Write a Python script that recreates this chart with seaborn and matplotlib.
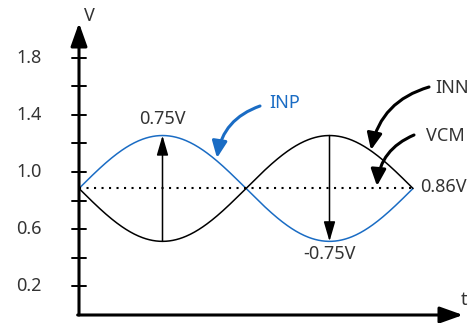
import numpy as np
import pandas as pd
import matplotlib
matplotlib.use("Agg")
import matplotlib.pyplot as plt
import seaborn as sns

# ---- data ----
vcm = 0.885            # common-mode level (plotted)
amp = 0.37             # single-ended amplitude
yticks = [0.2, 0.4, 0.6, 0.8, 1.0, 1.2, 1.4, 1.6, 1.8]
ytick_labels = ["0.2", "", "0.6", "", "1.0", "", "1.4", "", "1.8"]
label_peak = "0.75V"
label_trough = "-0.75V"
label_vcm = "0.86V"
series_names = ["INP", "INN"]

t = np.linspace(0, 1, 400)
df = pd.DataFrame({
    "t": np.concatenate([t, t]),
    "v": np.concatenate([vcm + amp * np.sin(2 * np.pi * t),
                         vcm - amp * np.sin(2 * np.pi * t)]),
    "sig": ["INP"] * len(t) + ["INN"] * len(t),
})

sns.set_style("white")
plt.rcParams["font.family"] = ["Noto Sans", "DejaVu Sans"]
FS = 13

W, H = 474, 323
fig = plt.figure(figsize=(W / 100, H / 100), dpi=100)
ax = fig.add_axes([0, 0, 1, 1])
x0px, xs = 79, 334.0   # pixel of t=0 and px per period
y0px, ys = 315, 143.0  # pixel of v=0 and px per volt
ax.set_xlim(-x0px / xs, (W - x0px) / xs)
ax.set_ylim(-(H - y0px) / ys, y0px / ys)
ax.axis("off")


def px(x, y):
    return ((x - x0px) / xs, (y0px - y) / ys)


blue = "#1a6cc4"
txt = "#333333"

sns.lineplot(data=df, x="t", y="v", hue="sig", palette={"INP": blue, "INN": "black"},
             linewidth=1.1, legend=False, ax=ax, sort=False, estimator=None)

# dotted VCM line
ax.plot([0, 1], [vcm, vcm], color="black", linewidth=1.5,
        linestyle=(0, (1, 2.6)), dash_capstyle="butt")

# axes with arrows
xend = (463 - x0px) / xs
yend = (y0px - 23) / ys
ax.annotate("", xy=(0, yend), xytext=(0, 0),
            arrowprops=dict(arrowstyle="-|>,head_length=1.4,head_width=0.5",
                            color="black", lw=2.2, shrinkA=0, shrinkB=0))
ax.annotate("", xy=(xend, 0), xytext=(-0.004, 0),
            arrowprops=dict(arrowstyle="-|>,head_length=1.4,head_width=0.5",
                            color="black", lw=2.2, shrinkA=0, shrinkB=0))

# y ticks
tick_half = 7 / xs
for yv, lab in zip(yticks, ytick_labels):
    ax.plot([-tick_half, tick_half], [yv, yv], color="black", lw=1.4)
    if lab:
        ax.text((29 - x0px) / xs, yv, lab, ha="center", va="center",
                fontsize=FS, color=txt)

ax.text(*px(89, 16), "V", ha="center", va="center", fontsize=FS, color=txt)
ax.text(*px(464, 300), "t", ha="center", va="center", fontsize=FS, color=txt)

# vertical amplitude arrows
ax.annotate("", xy=(0.25, vcm + amp), xytext=(0.25, vcm - amp),
            arrowprops=dict(arrowstyle="-|>,head_length=1.2,head_width=0.35",
                            color="black", lw=1.1, shrinkA=0, shrinkB=0))
ax.annotate("", xy=(0.75, vcm - amp), xytext=(0.75, vcm + amp),
            arrowprops=dict(arrowstyle="-|>,head_length=1.2,head_width=0.35",
                            color="black", lw=1.1, shrinkA=0, shrinkB=0))
ax.text(*px(162, 119), label_peak, ha="center", va="center",
        fontsize=FS, color=txt)
ax.text(*px(330, 254), label_trough, ha="center", va="center",
        fontsize=FS, color=txt)
ax.text(*px(420, 187), label_vcm, ha="left", va="center", fontsize=FS, color=txt)

# curved labelled arrows
ax.text(*px(285, 103), "INP", ha="center", va="center", fontsize=FS, color=blue)
ax.annotate("", xy=px(217, 158), xytext=px(260, 106),
            arrowprops=dict(arrowstyle="-|>,head_length=1.0,head_width=0.45",
                            color=blue, lw=2.2, shrinkA=0, shrinkB=0,
                            connectionstyle="arc3,rad=0.3"))
ax.text(*px(452, 88), "INN", ha="center", va="center", fontsize=FS, color=txt)
ax.annotate("", xy=px(371, 150), xytext=px(429, 87),
            arrowprops=dict(arrowstyle="-|>,head_length=1.0,head_width=0.45",
                            color="black", lw=2.2, shrinkA=0, shrinkB=0,
                            connectionstyle="arc3,rad=0.3"))
ax.text(*px(445, 136), "VCM", ha="center", va="center", fontsize=FS, color=txt)
ax.annotate("", xy=px(377, 186), xytext=px(414, 135),
            arrowprops=dict(arrowstyle="-|>,head_length=1.0,head_width=0.45",
                            color="black", lw=2.2, shrinkA=0, shrinkB=0,
                            connectionstyle="arc3,rad=0.3"))

fig.savefig("out.png", dpi=100)
